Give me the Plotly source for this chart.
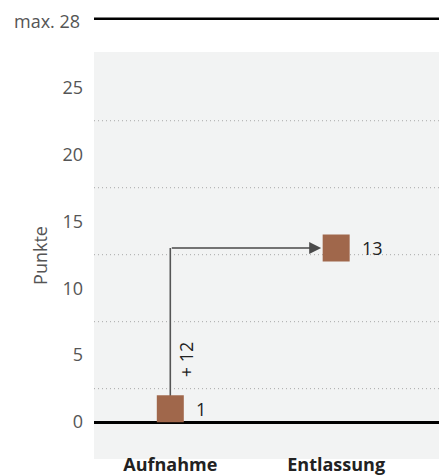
import plotly.graph_objects as go

# ---- data ----
categories = ["Aufnahme", "Entlassung"]
scores = [1, 13]
y_ticks = [0, 5, 10, 15, 20, 25]
grid_values = [2.5, 7.5, 12.5, 17.5, 22.5]
max_score = 28
y_title = "Punkte"

MARKER_COLOR = "#a0674b"
TEXT_GRAY = "#555555"
TEXT_DARK = "#222222"
FONT = "Open Sans"

fig = go.Figure()

# vertical connector from first to second value
fig.add_trace(go.Scatter(
    x=[categories[0], categories[0]], y=[scores[0], scores[1]],
    mode="lines", line=dict(color="#555555", width=1.6),
    hoverinfo="skip", showlegend=False, cliponaxis=False))

# markers
fig.add_trace(go.Scatter(
    x=categories, y=scores, mode="markers",
    marker=dict(symbol="square", size=27, color=MARKER_COLOR, line=dict(width=0)),
    showlegend=False, cliponaxis=False))

# horizontal arrow
fig.add_annotation(
    x=1, y=scores[1], ax=0, ay=scores[1], xref="x", yref="y", axref="x", ayref="y",
    text="", showarrow=True, arrowhead=2, arrowsize=1.5, arrowwidth=1.6,
    arrowcolor="#4a4a4a", standoff=15)

# difference label
diff = scores[1] - scores[0]
fig.add_annotation(
    x=0, y=scores[0] + diff * 0.31, xref="x", yref="y",
    text=f"+ {diff}", showarrow=False, textangle=-90, xshift=16,
    font=dict(family=FONT, size=18, color=TEXT_DARK))

# value labels
for i, v in enumerate(scores):
    fig.add_annotation(
        x=i, y=v, xref="x", yref="y", text=str(v), showarrow=False,
        xanchor="left", xshift=24,
        font=dict(family=FONT, size=18, color=TEXT_DARK))

# dotted grid lines between ticks
for g in grid_values:
    fig.add_shape(type="line", xref="paper", x0=0, x1=1, yref="y", y0=g, y1=g,
                  line=dict(color="#a8a8a8", width=1, dash="1px,3px"), layer="below")

# max line above plot
MAX_Y = 1.082
fig.add_shape(type="line", xref="paper", x0=0, x1=1, yref="paper", y0=MAX_Y, y1=MAX_Y,
              line=dict(color="black", width=2.5))
fig.add_annotation(
    xref="paper", yref="paper", x=0, y=MAX_Y, xanchor="right", yanchor="middle",
    xshift=-12, yshift=-2, text=f"max. {max_score}", showarrow=False,
    font=dict(family=FONT, size=18, color=TEXT_GRAY))

fig.update_layout(
    width=439, height=475,
    margin=dict(l=94, r=0, t=52, b=16, pad=0),
    paper_bgcolor="white", plot_bgcolor="#f2f3f3",
    font=dict(family=FONT, size=18, color=TEXT_GRAY),
    showlegend=False,
    xaxis=dict(type="category", categoryorder="array", categoryarray=categories,
               range=[-0.46, 1.62], showgrid=False, zeroline=False, showline=False,
               ticks="", automargin=False, ticklabelstandoff=-7,
               tickfont=dict(family=FONT, size=18, color=TEXT_DARK, weight=700)),
    yaxis=dict(range=[-2.75, 27.63], tickvals=y_ticks, showgrid=False,
               zeroline=True, zerolinecolor="black", zerolinewidth=2.5,
               showline=False, ticks="", automargin=False, ticklabelstandoff=10,
               tickfont=dict(family=FONT, size=18, color=TEXT_GRAY),
               title=dict(text=y_title, standoff=10,
                          font=dict(family=FONT, size=18, color=TEXT_GRAY))),
)

fig.write_html("out.html", config={"displayModeBar": False},
               post_script="document.body.style.margin='0';")
